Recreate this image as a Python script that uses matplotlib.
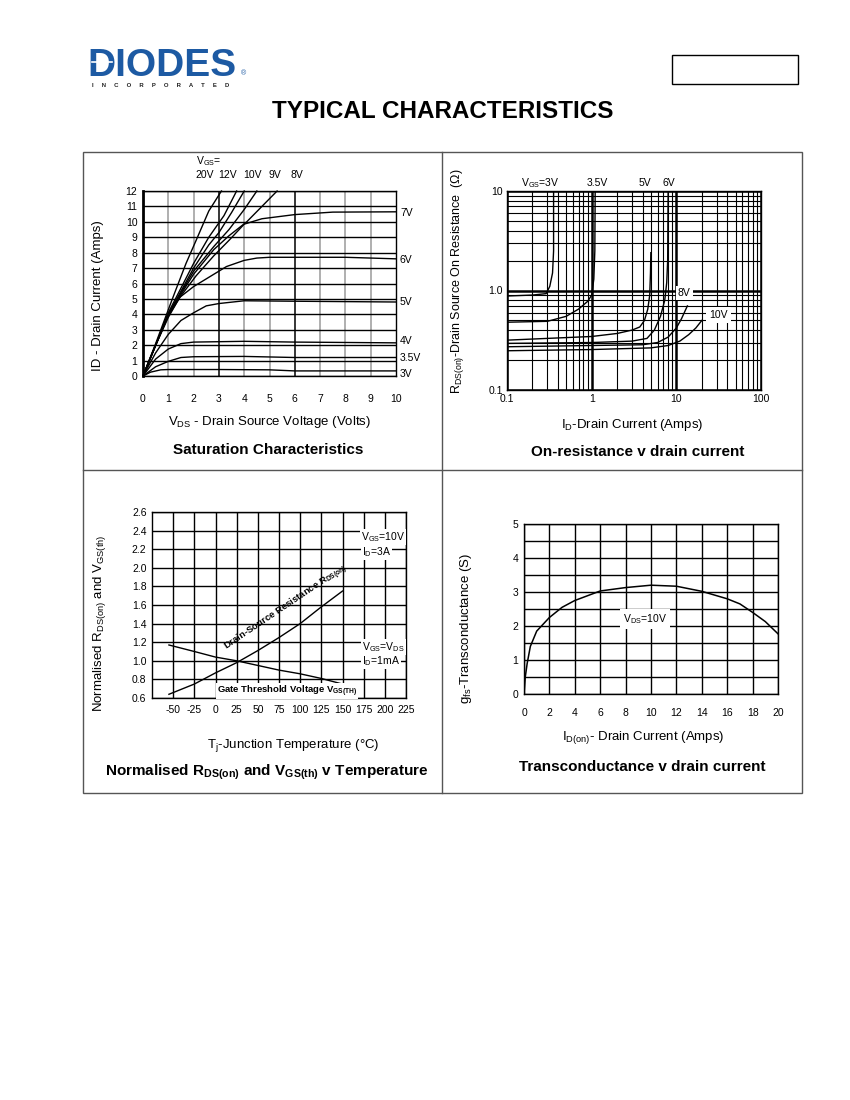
import numpy as np
import matplotlib
matplotlib.use("Agg")
import matplotlib.pyplot as plt
from matplotlib.patches import Rectangle
from matplotlib.ticker import FixedLocator, NullFormatter, LogLocator

plt.rcParams['font.family'] = ['Liberation Sans', 'DejaVu Sans']
plt.rcParams['mathtext.fontset'] = 'custom'
plt.rcParams['mathtext.rm'] = 'Liberation Sans'
plt.rcParams['mathtext.bf'] = 'Liberation Sans:bold'
plt.rcParams['mathtext.it'] = 'Liberation Sans:italic'
plt.rcParams['axes.unicode_minus'] = False

# --- saturation characteristics: VDS (V) vs ID (A) for each VGS ---
sat_vds_3 = [0, 0.3, 0.7, 1, 3, 5, 6, 10]
sat_id_3 = [0, 0.25, 0.4, 0.42, 0.42, 0.4, 0.33, 0.33]
sat_vds_35 = [0, 0.5, 1, 1.5, 2, 4, 6, 10]
sat_id_35 = [0, 0.6, 0.95, 1.2, 1.25, 1.27, 1.2, 1.2]
sat_vds_4 = [0, 0.5, 1, 1.5, 2, 4, 6, 10]
sat_id_4 = [0, 1.1, 1.75, 2.1, 2.2, 2.25, 2.2, 2.15]
sat_vds_5 = [0, 0.5, 1, 1.5, 2, 2.5, 3, 4, 6, 10]
sat_id_5 = [0, 1.5, 2.7, 3.6, 4.1, 4.55, 4.7, 4.88, 4.85, 4.8]
sat_vds_6 = [0, 0.5, 1, 1.45, 2, 2.5, 2.8, 3.3, 4, 4.5, 5, 8, 10]
sat_id_6 = [0, 2.0, 3.8, 5.1, 5.8, 6.3, 6.6, 7.1, 7.5, 7.65, 7.7, 7.7, 7.6]
sat_vds_7 = [0, 0.5, 1, 1.5, 2.1, 2.8, 3.4, 4, 4.7, 6, 7.5, 10]
sat_id_7 = [0, 2.0, 3.9, 5.2, 6.5, 7.8, 8.8, 9.85, 10.2, 10.47, 10.63, 10.65]
sat_vds_8 = [0, 0.5, 1, 1.5, 2, 2.8, 3.4, 4.1, 4.7, 5.3]
sat_id_8 = [0, 2.0, 4.0, 5.3, 6.6, 8.2, 9.1, 10.0, 11.0, 12.0]
sat_vds_9 = [0, 0.5, 1, 1.5, 2, 2.8, 3.4, 4, 4.5]
sat_id_9 = [0, 2.0, 4.0, 5.4, 6.8, 8.4, 9.5, 10.8, 12.0]
sat_vds_10 = [0, 0.5, 1, 1.5, 2, 2.6, 3, 3.5, 4]
sat_id_10 = [0, 2.0, 4.0, 5.5, 7.0, 8.5, 9.3, 10.6, 12.0]
sat_vds_12 = [0, 0.5, 1, 1.5, 2, 2.6, 3.2, 3.7]
sat_id_12 = [0, 2.0, 4.1, 5.7, 7.3, 9.0, 10.4, 12.0]
sat_vds_20 = [0, 0.5, 1, 1.3, 1.7, 2.1, 2.6, 3.1]
sat_id_20 = [0, 2.1, 4.3, 5.6, 7.3, 8.8, 10.7, 12.0]
sat_top_labels = ['20V', '12V', '10V', '9V', '8V']
sat_right_labels = ['7V', '6V', '5V', '4V', '3.5V', '3V']

# --- on-resistance vs drain current ---
ron_id_3 = [0.1, 0.2, 0.29, 0.32, 0.345, 0.355, 0.355]
ron_r_3 = [0.88, 0.9, 0.93, 1.1, 1.5, 2.5, 10]
ron_id_35 = [0.1, 0.3, 0.5, 0.7, 0.9, 1.0, 1.06, 1.09, 1.1]
ron_r_35 = [0.48, 0.49, 0.55, 0.65, 0.78, 0.9, 1.3, 2.5, 10]
ron_id_5 = [0.1, 1, 2, 3, 3.7, 4.2, 4.6, 4.85, 4.95, 5.0]
ron_r_5 = [0.317, 0.345, 0.37, 0.4, 0.43, 0.5, 0.65, 0.9, 1.5, 2.4]
ron_id_6 = [0.1, 1, 3, 4.5, 5.5, 6.5, 7.3, 7.7, 7.9, 8.0]
ron_r_6 = [0.294, 0.3, 0.31, 0.33, 0.4, 0.55, 0.8, 1.2, 2.0, 10]
ron_id_8 = [0.1, 1, 4, 6, 8, 10, 11.5, 13.5]
ron_r_8 = [0.272, 0.28, 0.285, 0.3, 0.34, 0.42, 0.52, 0.7]
ron_id_10 = [0.1, 1, 5, 8, 11, 14, 17, 20]
ron_r_10 = [0.248, 0.255, 0.265, 0.28, 0.31, 0.36, 0.42, 0.5]

# --- normalised RDS(on) and VGS(th) vs temperature ---
temp_c = [-55, -25, 0, 25, 50, 75, 100, 125, 150]
norm_rds = [0.64, 0.75, 0.87, 0.98, 1.11, 1.25, 1.40, 1.58, 1.75]
norm_vgs = [1.17, 1.10, 1.04, 1.0, 0.95, 0.90, 0.86, 0.81, 0.75]

# --- transconductance vs drain current ---
gfs_id = [0, 0.1, 0.25, 0.5, 1, 2, 3, 4, 6, 8, 10, 12, 14, 16, 17, 18, 19, 20]
gfs_s = [0, 0.5, 0.9, 1.4, 1.85, 2.25, 2.55, 2.75, 3.03, 3.13, 3.2, 3.17,
         3.02, 2.8, 2.65, 2.4, 2.13, 1.77]

W, H = 850, 1100
fig = plt.figure(figsize=(8.5, 11), dpi=100)


def px_axes(x0, y0, x1, y1):
    return fig.add_axes([x0 / W, 1 - y1 / H, (x1 - x0) / W, (y1 - y0) / H])


def clean(ax):
    ax.tick_params(length=0, labelsize=7.5, colors='black')
    for s in ax.spines.values():
        s.set_linewidth(1.0)
    ax.set_axisbelow(True)


# ---------- chart 1 ----------
ax1 = px_axes(143, 191, 396, 376)
clean(ax1)
ax1.set_xlim(0, 10)
ax1.set_ylim(0, 12)
ax1.set_xticks(range(0, 11))
ax1.set_yticks(range(0, 13))
ax1.tick_params(axis='x', pad=13)
ax1.tick_params(axis='y', pad=4)
for v in range(1, 10):
    ax1.axvline(v, color='black' if v in (3, 6) else '#9a9a9a', lw=1.1, zorder=0)
ax1.grid(axis='y', color='black', lw=1.0)
ax1.spines['left'].set_linewidth(2)
sat_curves = [(sat_vds_3, sat_id_3), (sat_vds_35, sat_id_35), (sat_vds_4, sat_id_4),
              (sat_vds_5, sat_id_5), (sat_vds_6, sat_id_6), (sat_vds_7, sat_id_7),
              (sat_vds_8, sat_id_8), (sat_vds_9, sat_id_9), (sat_vds_10, sat_id_10),
              (sat_vds_12, sat_id_12), (sat_vds_20, sat_id_20)]
for xs, ys in sat_curves:
    ax1.plot(xs, ys, color='black', lw=1.0, clip_on=False)

# ---------- chart 2 ----------
ax2 = px_axes(507, 191, 761, 390)
clean(ax2)
ax2.set_xscale('log')
ax2.set_yscale('log')
ax2.set_xlim(0.1, 100)
ax2.set_ylim(0.1, 10)
ax2.xaxis.set_major_locator(FixedLocator([0.1, 1, 10, 100]))
ax2.set_xticklabels(['0.1', '1', '10', '100'])
ax2.yaxis.set_major_locator(FixedLocator([0.1, 1, 10]))
ax2.set_yticklabels(['0.1', '1.0', '10'])
ax2.xaxis.set_minor_locator(LogLocator(base=10, subs=range(2, 10)))
ax2.yaxis.set_minor_locator(LogLocator(base=10, subs=range(2, 10)))
ax2.xaxis.set_minor_formatter(NullFormatter())
ax2.yaxis.set_minor_formatter(NullFormatter())
ax2.tick_params(which='both', length=0)
ax2.tick_params(axis='x', pad=3)
ax2.tick_params(axis='y', pad=3)
ax2.grid(which='major', color='black', lw=1.8)
ax2.grid(which='minor', color='black', lw=0.8)
ron_curves = [(ron_id_3, ron_r_3), (ron_id_35, ron_r_35), (ron_id_5, ron_r_5),
              (ron_id_6, ron_r_6), (ron_id_8, ron_r_8), (ron_id_10, ron_r_10)]
for xs, ys in ron_curves:
    ax2.plot(xs, ys, color='black', lw=1.0)

# ---------- chart 3 ----------
ax3 = px_axes(152, 512, 406, 698)
clean(ax3)
ax3.set_xlim(-75, 225)
ax3.set_ylim(0.6, 2.6)
ax3.set_xticks(np.arange(-50, 226, 25))
ax3.set_yticks(np.round(np.arange(0.6, 2.61, 0.2), 1))
ax3.set_yticklabels([f'{v:.1f}' for v in np.arange(0.6, 2.61, 0.2)])
ax3.tick_params(axis='x', pad=5)
ax3.tick_params(axis='y', pad=4)
ax3.grid(color='black', lw=1.0)
ax3.plot(temp_c, norm_rds, color='black', lw=1.0)
ax3.plot(temp_c, norm_vgs, color='black', lw=1.0)

# ---------- chart 4 ----------
ax4 = px_axes(524, 524, 778, 694)
clean(ax4)
ax4.set_xlim(0, 20)
ax4.set_ylim(0, 5)
ax4.set_xticks(range(0, 21, 2))
ax4.set_yticks(range(0, 6))
ax4.set_yticks(np.arange(0.5, 5, 1.0), minor=True)
ax4.tick_params(which='both', length=0)
ax4.tick_params(axis='x', pad=10)
ax4.tick_params(axis='y', pad=4)
ax4.grid(which='both', color='black', lw=1.0)
ax4.plot(gfs_id, gfs_s, color='black', lw=1.1)

# ---------- page overlay (pixel coordinates) ----------
page = fig.add_axes([0, 0, 1, 1], zorder=10)
page.set_xlim(0, W)
page.set_ylim(H, 0)
page.set_axis_off()
page.patch.set_alpha(0)

# logo
blue = '#1d5aa3'
page.text(87, 76, 'DIODES', fontsize=28, fontweight='heavy', color=blue,
          va='baseline', ha='left')
page.plot([92, 112], [62, 62], color='white', lw=1.2, zorder=5)
page.text(161, 85.5, 'I     N     C     O     R     P     O     R     A     T     E     D',
          fontsize=4.3, fontweight='bold', color='#222222', va='center', ha='center')
page.text(244, 74, '®', fontsize=5, color=blue, va='center', ha='center')
page.add_patch(Rectangle((672, 55), 126, 29, fill=False, ec='black', lw=1.0))
page.text(443, 112, 'TYPICAL CHARACTERISTICS', fontsize=17.5, fontweight='bold',
          ha='center', va='center')

# frame
page.add_patch(Rectangle((83, 152), 719, 641, fill=False, ec='#555555', lw=1.0))
page.plot([442, 442], [152, 793], color='#555555', lw=1.0)
page.plot([83, 802], [470, 470], color='#555555', lw=1.0)

lab = 9.5
ttl = 11
# chart 1 texts
page.text(98, 296, 'ID - Drain Current (Amps)', rotation=90, fontsize=lab, ha='center', va='center')
page.text(270, 422, r'V$_{\mathregular{DS}}$ - Drain Source Voltage (Volts)', fontsize=lab,
          ha='center', va='center')
page.text(268, 450, 'Saturation Characteristics', fontsize=ttl, fontweight='bold',
          ha='center', va='center')
page.text(196, 161, r'V$_{\mathregular{GS}}$=', fontsize=7.5, ha='left', va='center')
for t, xp in zip(sat_top_labels, [205, 228, 252, 275, 297]):
    page.text(xp, 175, t, fontsize=7.5, ha='center', va='center')
for t, yp in zip(sat_right_labels, [213, 260, 302, 341, 358, 374]):
    page.text(400, yp, t, fontsize=7.5, ha='left', va='center')

# chart 2 texts
page.text(458, 281, r'R$_{\mathregular{DS(on)}}$-Drain Source On Resistance  ($\Omega$)',
          rotation=90, fontsize=9, ha='center', va='center')
page.text(632, 425, r'I$_{\mathregular{D}}$-Drain Current (Amps)', fontsize=lab,
          ha='center', va='center')
page.text(638, 452, 'On-resistance v drain current', fontsize=ttl, fontweight='bold',
          ha='center', va='center')
page.text(540, 183, r'V$_{\mathregular{GS}}$=3V', fontsize=7.5, ha='center', va='center')
page.text(597, 183, '3.5V', fontsize=7.5, ha='center', va='center')
page.text(645, 183, '5V', fontsize=7.5, ha='center', va='center')
page.text(669, 183, '6V', fontsize=7.5, ha='center', va='center')
page.text(678, 293, '8V', fontsize=7.5, ha='left', va='center',
          bbox=dict(fc='white', ec='none', pad=1.5))
page.text(709, 315, '10V', fontsize=7.5, ha='left', va='center',
          bbox=dict(fc='white', ec='none', pad=2.5))

# chart 3 texts
page.text(100, 623, r'Normalised R$_{\mathregular{DS(on)}}$ and V$_{\mathregular{GS(th)}}$',
          rotation=90, fontsize=lab, ha='center', va='center')
page.text(293, 746, r'T$_{\mathregular{j}}$-Junction Temperature (°C)', fontsize=lab,
          ha='center', va='center')
page.text(267, 772, r'Normalised R$_{\mathbf{DS(on)}}$ and V$_{\mathbf{GS(th)}}$ v Temperature',
          fontsize=ttl, fontweight='bold', ha='center', va='center')
page.text(286, 608, r'Drain-Source Resistance R$_{\mathbf{DS(on)}}$', fontsize=6.8,
          fontweight='bold', rotation=34, ha='center', va='center', rotation_mode='anchor')
page.text(287, 691, r'Gate Threshold Voltage V$_{\mathbf{GS(TH)}}$', fontsize=6.8,
          fontweight='bold', ha='center', va='center',
          bbox=dict(fc='white', ec='none', pad=0.5))
box = dict(fc='white', ec='none', pad=0.8)
page.text(361, 537, r'V$_{\mathregular{GS}}$=10V', fontsize=7.5, ha='left', va='center', bbox=box)
page.text(362, 552, r'I$_{\mathregular{D}}$=3A', fontsize=7.5, ha='left', va='center', bbox=box)
page.text(362, 647, r'V$_{\mathregular{GS}}$=V$_{\mathregular{DS}}$', fontsize=7.5, ha='left',
          va='center', bbox=box)
page.text(362, 661, r'I$_{\mathregular{D}}$=1mA', fontsize=7.5, ha='left', va='center', bbox=box)

# chart 4 texts
page.text(466, 628, r'g$_{\mathregular{fs}}$-Transconductance (S)', rotation=90, fontsize=lab,
          ha='center', va='center')
page.text(643, 738, r'I$_{\mathregular{D(on)}}$- Drain Current (Amps)', fontsize=lab,
          ha='center', va='center')
page.text(642, 767, 'Transconductance v drain current', fontsize=ttl, fontweight='bold',
          ha='center', va='center')
page.text(645, 619, r'V$_{\mathregular{DS}}$=10V', fontsize=7.5, ha='center', va='center',
          bbox=dict(fc='white', ec='none', pad=2))

fig.savefig('out.png', dpi=100)
